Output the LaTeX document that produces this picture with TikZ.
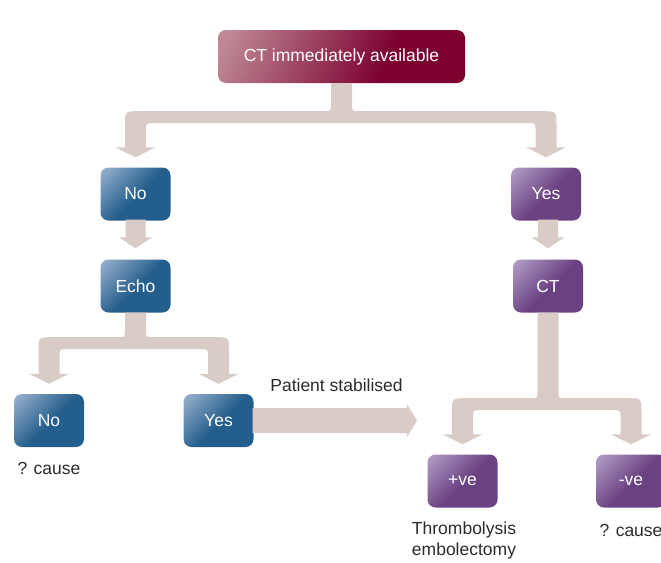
\documentclass[tikz,border=0pt]{standalone}
\usepackage{fontspec}
\setmainfont{Liberation Sans}
\usetikzlibrary{calc}
\definecolor{pipec}{HTML}{D9CBC6}
\definecolor{bluel}{HTML}{9AB3CF}
\definecolor{blued}{HTML}{245E8C}
\definecolor{purl}{HTML}{B39FC8}
\definecolor{purd}{HTML}{6B4281}
\definecolor{redl}{HTML}{BE8894}
\definecolor{redd}{HTML}{7B0030}
\definecolor{txt}{HTML}{2B2B2B}
\pgfdeclarehorizontalshading{blueshade}{100bp}{color(0bp)=(bluel); color(15bp)=(bluel); color(52bp)=(blued); color(100bp)=(blued)}
\pgfdeclarehorizontalshading{purshade}{100bp}{color(0bp)=(purl); color(15bp)=(purl); color(52bp)=(purd); color(100bp)=(purd)}
\pgfdeclarehorizontalshading{redshade}{100bp}{color(0bp)=(redl); color(20bp)=(redl); color(62bp)=(redd); color(100bp)=(redd)}
\def\pH{10.5pt}
\def\hH{20pt}
\def\rO{14pt}
\def\rI{7pt}
% fork connector: stem node, left node, right node, bar drop below stem
\newcommand\forkpipe[4]{%
\fill[pipec] let \p1=(#1.south), \p2=(#2.north), \p3=(#3.north) in
 ({\x1-\pH},\y1) -- ({\x1-\pH},{\y1-#4pt+\rI}) .. controls ({\x1-\pH},{\y1-#4pt}) .. ({\x1-\pH-\rI},{\y1-#4pt})
 -- ({\x2-\pH+\rO},{\y1-#4pt}) .. controls ({\x2-\pH},{\y1-#4pt}) .. ({\x2-\pH},{\y1-#4pt-\rO})
 -- ({\x2-\pH},{\y2+20pt}) -- ({\x2-\hH},{\y2+20pt}) -- (\x2,{\y2+10pt}) -- ({\x2+\hH},{\y2+20pt}) -- ({\x2+\pH},{\y2+20pt})
 -- ({\x2+\pH},{\y1-#4pt-12pt-\rI}) .. controls ({\x2+\pH},{\y1-#4pt-12pt}) .. ({\x2+\pH+\rI},{\y1-#4pt-12pt})
 -- ({\x3-\pH-\rI},{\y1-#4pt-12pt}) .. controls ({\x3-\pH},{\y1-#4pt-12pt}) .. ({\x3-\pH},{\y1-#4pt-12pt-\rI})
 -- ({\x3-\pH},{\y3+20pt}) -- ({\x3-\hH},{\y3+20pt}) -- (\x3,{\y3+10pt}) -- ({\x3+\hH},{\y3+20pt}) -- ({\x3+\pH},{\y3+20pt})
 -- ({\x3+\pH},{\y1-#4pt-\rO}) .. controls ({\x3+\pH},{\y1-#4pt}) .. ({\x3+\pH-\rO},{\y1-#4pt})
 -- ({\x1+\pH+\rI},{\y1-#4pt}) .. controls ({\x1+\pH},{\y1-#4pt}) .. ({\x1+\pH},{\y1-#4pt+\rI})
 -- ({\x1+\pH},\y1) -- cycle;}
\newcommand\smallpipe[2]{%
\fill[pipec] let \p1=(#1.south), \p2=(#2.north) in
 ({\x2-10pt},{\y1+1pt}) -- ({\x2-10pt},{\y2+22pt}) -- ({\x2-16.5pt},{\y2+22pt}) -- (\x2,{\y2+11pt})
 -- ({\x2+16.5pt},{\y2+22pt}) -- ({\x2+10pt},{\y2+22pt}) -- ({\x2+10pt},{\y1+1pt}) -- cycle;}
\tikzset{
 box/.style={minimum width=70pt, minimum height=53pt, rounded corners=8pt, inner sep=0pt,
   text=white, font=\fontsize{17.5}{21}\selectfont},
 bluebox/.style={box, shade, shading=blueshade, shading angle=-45},
 purbox/.style={box, shade, shading=purshade, shading angle=-45},
 topbox/.style={box, minimum width=247pt, shade, shading=redshade, shading angle=-25},
 lbl/.style={text=txt, inner sep=0pt, font=\fontsize{17.5}{21}\selectfont}
}
\begin{document}
\begin{tikzpicture}[x=1pt,y=-1pt]
\useasboundingbox (0,0) rectangle (661,562);
\node[topbox] (top) at (341.5,56.5) {CT immediately available};
\node[bluebox] (no1) at (135.5,194) {No};
\node[purbox] (yes1) at (546,194) {Yes};
\node[bluebox] (echo) at (135.5,286) {Echo};
\node[purbox] (ct) at (548,286) {CT};
\node[bluebox] (no2) at (49,420.5) {No};
\node[bluebox] (yes2) at (218.5,420.5) {Yes};
\node[purbox] (pos) at (462.5,481) {+ve};
\node[purbox] (neg) at (631,481) {-ve};
\node[lbl] (c1) at (49,468) {? cause};
\node[lbl, align=center] (th) at (464,540.5) {Thrombolysis\\embolectomy};
\node[lbl] (c2) at (631,530) {? cause};
\node[lbl] (ps) at (336.5,385) {Patient stabilised};
\coordinate (ptip) at (417,420.5);
\forkpipe{top}{no1}{yes1}{28}
\forkpipe{echo}{no2}{yes2}{24.5}
\forkpipe{ct}{pos}{neg}{85.5}
\smallpipe{no1}{echo}
\smallpipe{yes1}{ct}
\fill[pipec] let \p1=(yes2.east), \p2=(ptip) in
 ({\x1-1pt},{\y1+12.5pt}) -- ({\x2-10pt},{\y1+12.5pt}) -- ({\x2-10pt},{\y1+16.5pt}) -- (\x2,\y1)
 -- ({\x2-10pt},{\y1-16.5pt}) -- ({\x2-10pt},{\y1-12.5pt}) -- ({\x1-1pt},{\y1-12.5pt}) -- cycle;
\end{tikzpicture}
\end{document}
